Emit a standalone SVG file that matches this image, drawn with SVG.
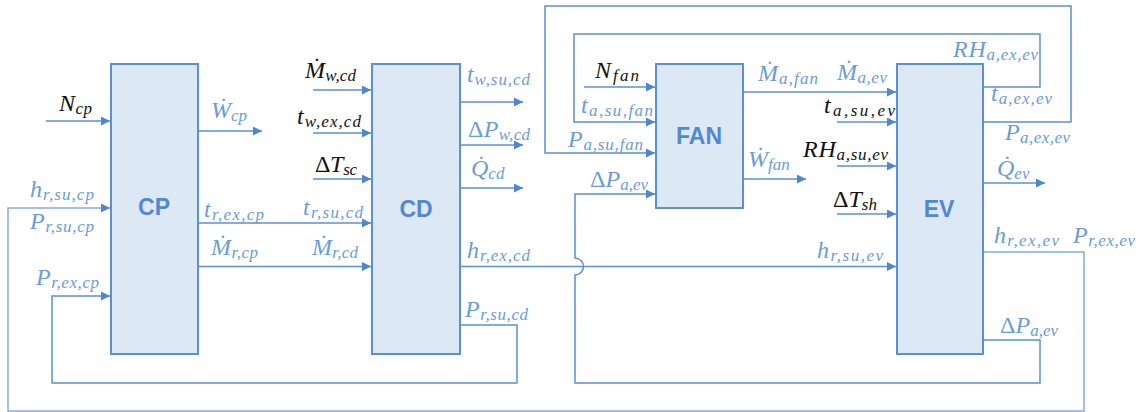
<svg xmlns="http://www.w3.org/2000/svg" width="1139" height="412" viewBox="0 0 1139 412">
<style>
.m{font-family:"Liberation Serif","Times New Roman",serif;font-style:italic;font-size:24px}
.s{font-size:17px}
.u{font-style:normal}
.b{fill:#6a9cdc}
.k{fill:#111111}
.box{fill:#dde8f5;stroke:#5b8fd9;stroke-width:2}
.lbl{font-family:"Liberation Sans",Arial,sans-serif;font-weight:bold;font-size:23px;fill:#5088d4;text-anchor:middle}
.c{fill:none;stroke:#5b8fd9;stroke-width:1.5}
.o{stroke:#86abe4}
</style>
<defs>
<marker id="a" viewBox="0 0 10 10" refX="10" refY="5" markerWidth="9" markerHeight="9" markerUnits="userSpaceOnUse" orient="auto">
<path d="M0,0 L10,5 L0,10 z" fill="#4f86d3"/>
</marker>
</defs>
<rect width="1139" height="412" fill="#ffffff"/>

<g id="connectors">
<path class="c" d="M46,121 H110" marker-end="url(#a)"/>
<path class="c" d="M198,131 H262" marker-end="url(#a)"/>
<path class="c" d="M198,223 H371" marker-end="url(#a)"/>
<path class="c" d="M198,266.5 H371" marker-end="url(#a)"/>
<path class="c" d="M313,90 H371" marker-end="url(#a)"/>
<path class="c" d="M313,133 H371" marker-end="url(#a)"/>
<path class="c" d="M313,179 H371" marker-end="url(#a)"/>
<path class="c" d="M460,102 H523" marker-end="url(#a)"/>
<path class="c" d="M460,145 H523" marker-end="url(#a)"/>
<path class="c" d="M460,188 H523" marker-end="url(#a)"/>
<path class="c" d="M460,266.5 H896" marker-end="url(#a)"/>
<path class="c" d="M460,325 H517 V383 H52 V296 H110" marker-end="url(#a)"/>
<path class="c o" d="M983,252 H1084 V411 H8 V208 H110" marker-end="url(#a)"/>
<path class="c" d="M584,87 H655" marker-end="url(#a)"/>
<path class="c" d="M983,87 H1040 V34 H574 V122 H655" marker-end="url(#a)"/>
<path class="c" d="M983,122 H1071 V6 H545 V153 H655" marker-end="url(#a)"/>
<path class="c" d="M983,340 H1040 V383 H575 V275 A8.5,8.5 0 0 0 575,258 V194 H655" marker-end="url(#a)"/>
<path class="c" d="M743,92 H896" marker-end="url(#a)"/>
<path class="c" d="M743,179 H806" marker-end="url(#a)"/>
<path class="c" d="M837,122 H896" marker-end="url(#a)"/>
<path class="c" d="M837,166 H896" marker-end="url(#a)"/>
<path class="c" d="M837,214 H896" marker-end="url(#a)"/>
<path class="c" d="M983,183 H1045" marker-end="url(#a)"/>
</g>

<g id="CP">
<rect class="box" x="111" y="64" width="87" height="290"/>
<text class="lbl" x="154" y="215">CP</text>
</g>
<g id="CD">
<rect class="box" x="372" y="64" width="88" height="290"/>
<text class="lbl" x="416" y="217">CD</text>
</g>
<g id="FAN">
<rect class="box" x="656" y="64" width="87" height="144"/>
<text class="lbl" x="699" y="144">FAN</text>
</g>
<g id="EV">
<rect class="box" x="897" y="64" width="86" height="290"/>
<text class="lbl" x="939" y="217">EV</text>
</g>

<g id="labels">
<text class="m k" x="59" y="111" textLength="33">N<tspan class="s" dy="3">cp</tspan></text>
<text class="m b" x="211" y="118">Ẇ<tspan class="s" dy="3">cp</tspan></text>
<text class="m b" x="30" y="197" textLength="64">h<tspan class="s" dy="3">r,su,cp</tspan></text>
<text class="m b" x="30" y="229" textLength="64">P<tspan class="s" dy="3">r,su,cp</tspan></text>
<text class="m b" x="204" y="217" textLength="60">t<tspan class="s" dy="3">r,ex,cp</tspan></text>
<text class="m b" x="211" y="255" textLength="47">Ṁ<tspan class="s" dy="3">r,cp</tspan></text>
<text class="m b" x="36" y="285" textLength="63">P<tspan class="s" dy="3">r,ex,cp</tspan></text>

<text class="m k" x="305" y="78" textLength="51">Ṁ<tspan class="s" dy="3">w,cd</tspan></text>
<text class="m k" x="297" y="124" textLength="64">t<tspan class="s" dy="3">w,ex,cd</tspan></text>
<text class="m k" x="315" y="172" textLength="42"><tspan class="u">Δ</tspan>T<tspan class="s" dy="3">sc</tspan></text>
<text class="m b" x="303" y="215" textLength="60">t<tspan class="s" dy="3">r,su,cd</tspan></text>
<text class="m b" x="312" y="255" textLength="46">Ṁ<tspan class="s" dy="3">r,cd</tspan></text>
<text class="m b" x="467" y="82" textLength="63">t<tspan class="s" dy="3">w,su,cd</tspan></text>
<text class="m b" x="468" y="137" textLength="62"><tspan class="u">Δ</tspan>P<tspan class="s" dy="3">w,cd</tspan></text>
<text class="m b" x="471" y="176">Q̇<tspan class="s" dy="3">cd</tspan></text>
<text class="m b" x="467" y="258" textLength="63">h<tspan class="s" dy="3">r,ex,cd</tspan></text>
<text class="m b" x="465" y="317" textLength="63">P<tspan class="s" dy="3">r,su,cd</tspan></text>

<text class="m k" x="595" y="78" textLength="44">N<tspan class="s" dy="3">fan</tspan></text>
<text class="m b" x="581" y="113" textLength="72">t<tspan class="s" dy="3">a,su,fan</tspan></text>
<text class="m b" x="568" y="147" textLength="75">P<tspan class="s" dy="3">a,su,fan</tspan></text>
<text class="m b" x="590" y="187" textLength="58"><tspan class="u">Δ</tspan>P<tspan class="s" dy="3">a,ev</tspan></text>
<text class="m b" x="758" y="81" textLength="60">Ṁ<tspan class="s" dy="3">a,fan</tspan></text>
<text class="m b" x="748" y="167">Ẇ<tspan class="s" dy="3">fan</tspan></text>

<text class="m b" x="837" y="80" textLength="50">Ṁ<tspan class="s" dy="3">a,ev</tspan></text>
<text class="m k" x="824" y="113" textLength="71">t<tspan class="s" dy="3">a,su,ev</tspan></text>
<text class="m k" x="803" y="157" textLength="85">RH<tspan class="s" dy="3">a,su,ev</tspan></text>
<text class="m k" x="833" y="207" textLength="44"><tspan class="u">Δ</tspan>T<tspan class="s" dy="3">sh</tspan></text>
<text class="m b" x="817" y="258" textLength="66">h<tspan class="s" dy="3">r,su,ev</tspan></text>
<text class="m b" x="953" y="57" textLength="85">RH<tspan class="s" dy="3">a,ex,ev</tspan></text>
<text class="m b" x="991" y="101" textLength="61">t<tspan class="s" dy="3">a,ex,ev</tspan></text>
<text class="m b" x="1005" y="140" textLength="65">P<tspan class="s" dy="3">a,ex,ev</tspan></text>
<text class="m b" x="997" y="176">Q̇<tspan class="s" dy="3">ev</tspan></text>
<text class="m b" x="994" y="243" textLength="65">h<tspan class="s" dy="3">r,ex,ev</tspan></text>
<text class="m b" x="1073" y="243" textLength="62">P<tspan class="s" dy="3">r,ex,ev</tspan></text>
<text class="m b" x="1000" y="333" textLength="58"><tspan class="u">Δ</tspan>P<tspan class="s" dy="3">a,ev</tspan></text>
</g>
</svg>
